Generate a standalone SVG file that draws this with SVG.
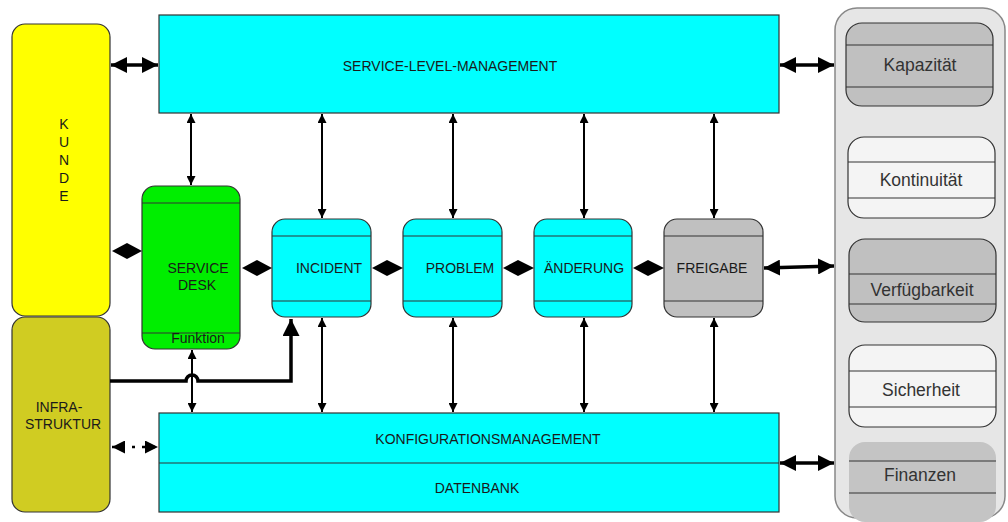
<svg xmlns="http://www.w3.org/2000/svg" width="1008" height="522" viewBox="0 0 1008 522">
<style>
text{font-family:"Liberation Sans",Arial,sans-serif;fill:#1a1a1a;text-anchor:middle}
.lbl{font-size:14px}
.r{font-size:17.5px;fill:#333}
.box{stroke:#333;stroke-width:1.2}
.div{stroke:#333;stroke-width:1.2;fill:none}
.thin{stroke:#000;stroke-width:2;fill:none}
.thick{stroke:#000;stroke-width:3.5;fill:none}
.dia{fill:#000}
</style>
<defs>
<marker id="sa" viewBox="0 0 10 10" refX="10" refY="5" markerWidth="9" markerHeight="9" markerUnits="userSpaceOnUse" orient="auto-start-reverse"><path d="M0,0 L10,5 L0,10 z" fill="#000"/></marker>
<marker id="ta" viewBox="0 0 10 10" refX="10" refY="5" markerWidth="16" markerHeight="16" markerUnits="userSpaceOnUse" orient="auto-start-reverse"><path d="M0,0 L10,5 L0,10 z" fill="#000"/></marker>
<marker id="da" viewBox="0 0 10 10" refX="10" refY="5" markerWidth="13" markerHeight="13" markerUnits="userSpaceOnUse" orient="auto-start-reverse"><path d="M0,0 L10,5 L0,10 z" fill="#000"/></marker>
<marker id="bigup" viewBox="0 0 10 10" refX="10" refY="5" markerWidth="17" markerHeight="17" markerUnits="userSpaceOnUse" orient="auto"><path d="M0,0 L10,5 L0,10 z" fill="#000"/></marker>
</defs>

<g id="rechts">
<rect x="835" y="8" width="170" height="510" rx="22" fill="#e6e6e6" stroke="#888" stroke-width="1.5"/>
</g>
<g id="kapazitaet">
<rect class="box" x="846" y="23" width="147" height="83" rx="16" fill="#c0c0c0"/>
<line class="div" x1="846" y1="45" x2="993" y2="45"/><line class="div" x1="846" y1="87" x2="993" y2="87"/>
<text class="r" x="920" y="71">Kapazität</text>
</g>
<g id="kontinuitaet">
<rect class="box" x="848" y="137" width="147" height="81" rx="16" fill="#f4f4f4"/>
<line class="div" x1="848" y1="162" x2="995" y2="162"/><line class="div" x1="848" y1="198" x2="995" y2="198"/>
<text class="r" x="921" y="186">Kontinuität</text>
</g>
<g id="verfuegbarkeit">
<rect class="box" x="849" y="239" width="147" height="83" rx="16" fill="#c0c0c0"/>
<line class="div" x1="849" y1="274" x2="996" y2="274"/><line class="div" x1="849" y1="304" x2="996" y2="304"/>
<text class="r" x="922" y="296">Verfügbarkeit</text>
</g>
<g id="sicherheit">
<rect class="box" x="849" y="345" width="147" height="82" rx="16" fill="#f4f4f4"/>
<line class="div" x1="849" y1="371" x2="996" y2="371"/><line class="div" x1="849" y1="407" x2="996" y2="407"/>
<text class="r" x="921" y="396">Sicherheit</text>
</g>
<g id="finanzen">
<rect x="849" y="442" width="147" height="80" rx="16" fill="#c4c4c4"/>
<line class="div" x1="849" y1="461" x2="996" y2="461"/><line class="div" x1="849" y1="493" x2="996" y2="493"/>
<text class="r" x="920" y="481">Finanzen</text>
</g>

<g id="kunde">
<rect class="box" x="12" y="24" width="98" height="292" rx="13" fill="#ffff00"/>
<text class="lbl" x="64" y="129">K</text>
<text class="lbl" x="64" y="147">U</text>
<text class="lbl" x="64" y="165">N</text>
<text class="lbl" x="64" y="183">D</text>
<text class="lbl" x="64" y="201">E</text>
</g>
<g id="infrastruktur">
<rect class="box" x="12" y="317" width="98" height="195" rx="13" fill="#d0cc22"/>
<text class="lbl" x="59" y="412">INFRA-</text>
<text class="lbl" x="63" y="429">STRUKTUR</text>
</g>
<g id="slm">
<rect class="box" x="159" y="15" width="620" height="98" fill="#00ffff"/>
<text class="lbl" x="450" y="71">SERVICE-LEVEL-MANAGEMENT</text>
</g>
<g id="servicedesk">
<rect class="box" x="142" y="186" width="98" height="163" rx="13" fill="#00ee00"/>
<line class="div" x1="142" y1="203" x2="240" y2="203"/><line class="div" x1="142" y1="333" x2="240" y2="333"/>
<text class="lbl" x="198" y="273">SERVICE</text>
<text class="lbl" x="197" y="290">DESK</text>
<text class="lbl" x="198" y="343">Funktion</text>
</g>
<g id="incident">
<rect class="box" x="272" y="219" width="99" height="98" rx="13" fill="#00ffff"/>
<line class="div" x1="272" y1="236" x2="371" y2="236"/><line class="div" x1="272" y1="301" x2="371" y2="301"/>
<text class="lbl" x="329" y="273">INCIDENT</text>
</g>
<g id="problem">
<rect class="box" x="403" y="219" width="99" height="98" rx="13" fill="#00ffff"/>
<line class="div" x1="403" y1="236" x2="502" y2="236"/><line class="div" x1="403" y1="301" x2="502" y2="301"/>
<text class="lbl" x="460" y="273">PROBLEM</text>
</g>
<g id="aenderung">
<rect class="box" x="534" y="219" width="98" height="98" rx="13" fill="#00ffff"/>
<line class="div" x1="534" y1="236" x2="632" y2="236"/><line class="div" x1="534" y1="301" x2="632" y2="301"/>
<text class="lbl" x="584" y="273">ÄNDERUNG</text>
</g>
<g id="freigabe">
<rect class="box" x="664" y="219" width="99" height="98" rx="13" fill="#c0c0c0"/>
<line class="div" x1="664" y1="236" x2="763" y2="236"/><line class="div" x1="664" y1="301" x2="763" y2="301"/>
<text class="lbl" x="712" y="273">FREIGABE</text>
</g>
<g id="konfiguration">
<rect class="box" x="159" y="413" width="620" height="99" fill="#00ffff"/>
<line class="div" x1="159" y1="463" x2="779" y2="463"/>
<text class="lbl" x="488" y="444">KONFIGURATIONSMANAGEMENT</text>
<text class="lbl" x="477" y="493">DATENBANK</text>
</g>

<g id="connectors">
<line class="thick" x1="111" y1="65" x2="158" y2="65" marker-start="url(#ta)" marker-end="url(#ta)"/>
<line class="thick" x1="780" y1="65" x2="834" y2="65" marker-start="url(#ta)" marker-end="url(#ta)"/>
<line class="thick" x1="764" y1="268" x2="834" y2="266" marker-start="url(#ta)" marker-end="url(#ta)"/>
<line class="thick" x1="780" y1="463" x2="834" y2="463" marker-start="url(#ta)" marker-end="url(#ta)"/>
<line stroke="#000" stroke-width="2.5" stroke-dasharray="3,7" x1="112" y1="447" x2="158" y2="447" marker-start="url(#da)" marker-end="url(#da)"/>

<line class="thin" x1="191" y1="114" x2="191" y2="185" marker-start="url(#sa)" marker-end="url(#sa)"/>
<line class="thin" x1="322" y1="114" x2="322" y2="218" marker-start="url(#sa)" marker-end="url(#sa)"/>
<line class="thin" x1="453" y1="114" x2="453" y2="218" marker-start="url(#sa)" marker-end="url(#sa)"/>
<line class="thin" x1="584" y1="114" x2="584" y2="218" marker-start="url(#sa)" marker-end="url(#sa)"/>
<line class="thin" x1="714" y1="114" x2="714" y2="218" marker-start="url(#sa)" marker-end="url(#sa)"/>

<line class="thin" x1="192" y1="350" x2="192" y2="412" marker-start="url(#sa)" marker-end="url(#sa)"/>
<line class="thin" x1="322" y1="318" x2="322" y2="412" marker-start="url(#sa)" marker-end="url(#sa)"/>
<line class="thin" x1="453" y1="318" x2="453" y2="412" marker-start="url(#sa)" marker-end="url(#sa)"/>
<line class="thin" x1="584" y1="318" x2="584" y2="412" marker-start="url(#sa)" marker-end="url(#sa)"/>
<line class="thin" x1="714" y1="318" x2="714" y2="412" marker-start="url(#sa)" marker-end="url(#sa)"/>

<path class="thick" d="M110,381 L186,381 A6,6 0 0 1 198,381 L291,381 L291,319" marker-end="url(#bigup)"/>

<polygon class="dia" points="112,251 127,243 142,251 127,259"/>
<polygon class="dia" points="242,268 257,260 272,268 257,276"/>
<polygon class="dia" points="372,268 387,260 403,268 387,276"/>
<polygon class="dia" points="503,268 518,260 534,268 518,276"/>
<polygon class="dia" points="633,268 648,260 664,268 648,276"/>
</g>
</svg>
